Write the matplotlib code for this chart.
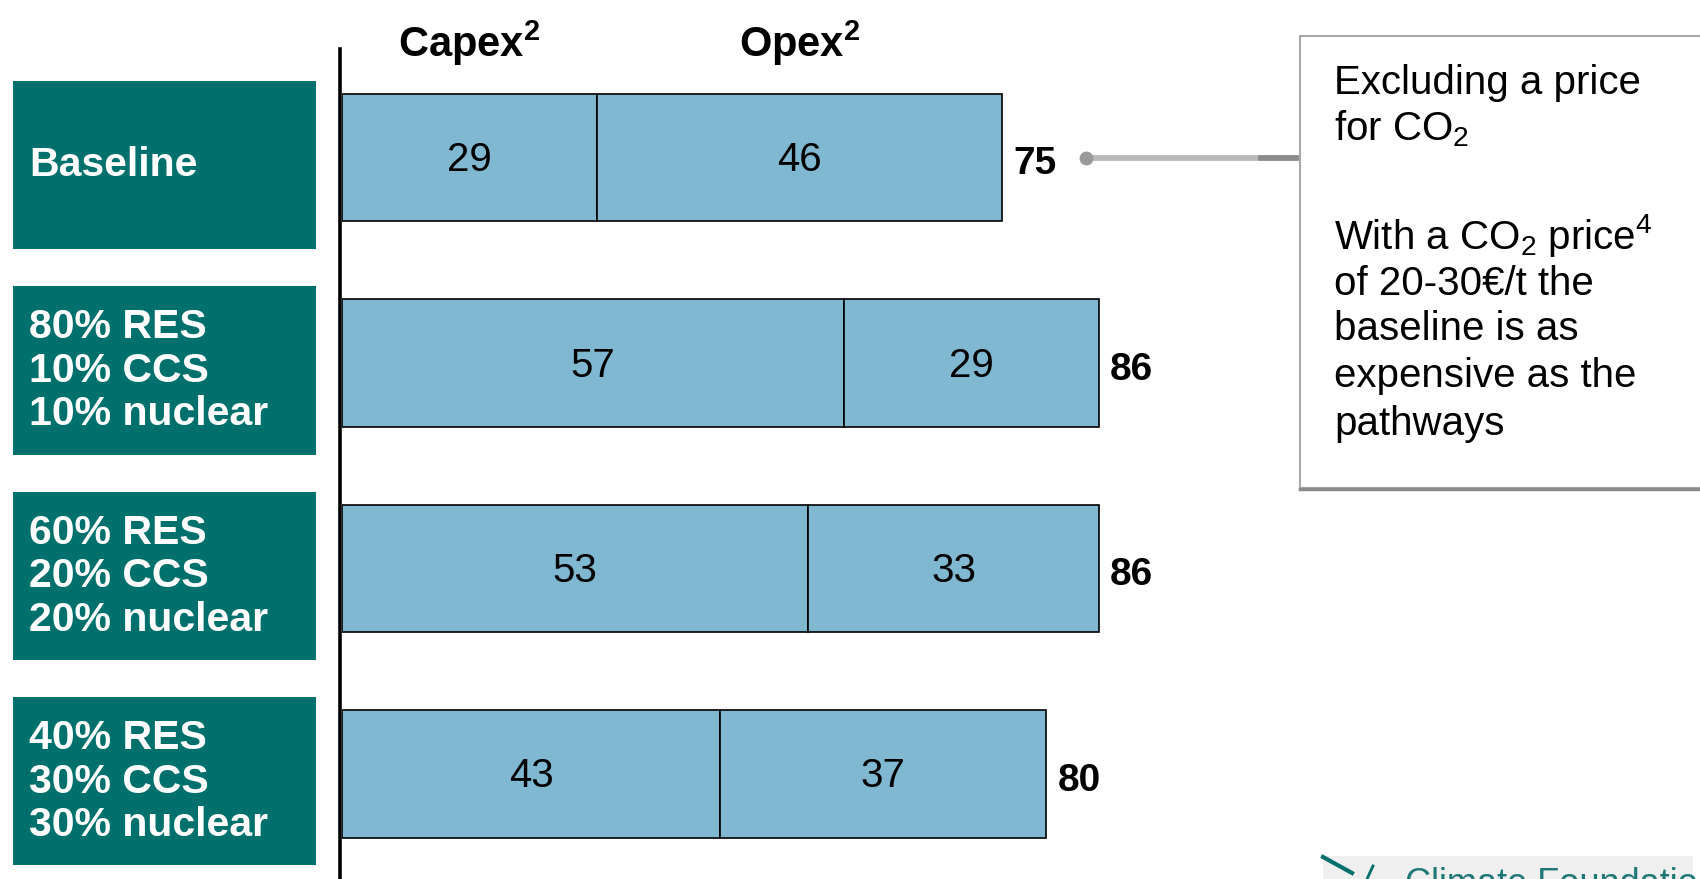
import matplotlib
matplotlib.use('Agg')
import matplotlib.pyplot as plt
import numpy as np
from matplotlib.patches import Rectangle
from matplotlib.lines import Line2D
from matplotlib.transforms import blended_transform_factory

plt.rcParams['font.family'] = ['Liberation Sans', 'DejaVu Sans']
plt.rcParams['mathtext.fontset'] = 'custom'
plt.rcParams['mathtext.rm'] = 'Liberation Sans'
plt.rcParams['mathtext.it'] = 'Liberation Sans:italic'
plt.rcParams['mathtext.bf'] = 'Liberation Sans:bold'

# cost per scenario, split into capital and operating expenditure
scenarios = ['Baseline',
             '80% RES\n10% CCS\n10% nuclear',
             '60% RES\n20% CCS\n20% nuclear',
             '40% RES\n30% CCS\n30% nuclear']
capex = [29, 57, 53, 43]
opex = [46, 29, 33, 37]
totals = [75, 86, 86, 80]
segment_names = [r'Capex$^\mathbf{2}$', r'Opex$^\mathbf{2}$']
note_lines = ['Excluding a price',
              r'for CO$_2$',
              '',
              r'With a CO$_2$ price$^4$',
              'of 20-30€/t the',
              'baseline is as',
              'expensive as the',
              'pathways']

BAR = '#80b7d1'
TEAL = '#00706c'
W, H = 1700, 879

fig = plt.figure(figsize=(W / 100, H / 100 + 0.004), dpi=100)
fig.patch.set_facecolor('white')

def fx(x):
    return x / W

def fy(y):
    return 1 - y / H

# main bar axes, the left spine doubles as the zero line
ax = fig.add_axes([fx(342), 0, 880 / W, 1 - 49 / H])
rows = np.arange(len(scenarios))
ax.barh(rows, capex, height=0.62, color=BAR, edgecolor='black', linewidth=1.2, zorder=2)
ax.barh(rows, opex, left=capex, height=0.62, color=BAR, edgecolor='black', linewidth=1.2, zorder=2)
ax.set_xlim(0, 100)
ax.set_ylim(3.511, -0.531)
ax.set_xticks([])
ax.set_yticks([])
for side in ['top', 'right', 'bottom']:
    ax.spines[side].set_visible(False)
ax.spines['left'].set_linewidth(2.6)
ax.spines['left'].set_position(('data', -0.2))
ax.patch.set_alpha(0)

for i in rows:
    ax.text(capex[i] / 2, i + 0.01, str(capex[i]), ha='center', va='center', fontsize=29, zorder=3)
    ax.text(capex[i] + opex[i] / 2, i + 0.01, str(opex[i]), ha='center', va='center', fontsize=29, zorder=3)
    ax.text(totals[i] + 1.3, i + 0.03, str(totals[i]), ha='left', va='center',
            fontsize=28, fontweight='bold', clip_on=False)

# column headers over the baseline segments
hdr_tr = blended_transform_factory(ax.transData, fig.transFigure)
ax.text(capex[0] / 2, fy(43), segment_names[0], transform=hdr_tr, ha='center', va='center',
        fontsize=30, fontweight='bold', clip_on=False)
ax.text(capex[0] + opex[0] / 2, fy(43), segment_names[1], transform=hdr_tr, ha='center', va='center',
        fontsize=30, fontweight='bold', clip_on=False)

# teal scenario boxes on the left
box_tr = blended_transform_factory(fig.transFigure, ax.transData)
for i, name in enumerate(scenarios):
    yc = i + 0.035
    ax.add_patch(Rectangle((fx(13), yc - 0.41), (316 - 13) / W, 0.82, transform=box_tr,
                           facecolor=TEAL, edgecolor='none', clip_on=False))
    ax.text(fx(29), yc, name, transform=box_tr, ha='left', va='center', color='white',
            fontsize=29.5, fontweight='bold', linespacing=1.18, clip_on=False)

# connector from the baseline total to the note box
x_box = ax.transData.inverted().transform(fig.transFigure.transform((fx(1300), 0)))[0]
x_mid = ax.transData.inverted().transform(fig.transFigure.transform((fx(1258), 0)))[0]
x_dot = totals[0] + 9.5
ax.plot([x_dot, x_mid], [0, 0], color='#b8b8b8', lw=4.2, clip_on=False, solid_capstyle='butt')
ax.plot([x_mid, x_box], [0, 0], color='#8c8c8c', lw=4.2, clip_on=False, solid_capstyle='butt')
ax.plot([x_dot], [0], 'o', color='#9a9a9a', ms=9, clip_on=False)

# note box
fig.add_artist(Rectangle((fx(1300), fy(488)), 420 / W, (488 - 36) / H, transform=fig.transFigure,
                         facecolor='white', edgecolor='#a8a8a8', linewidth=1.5))
fig.add_artist(Line2D([fx(1300), 1.0], [fy(489), fy(489)], color='#8a8a8a', lw=2.5))
note_y = [83, 129, 0, 235, 284, 329, 376, 424]
for line, yy in zip(note_lines, note_y):
    if line:
        fig.text(fx(1334), fy(yy), line, ha='left', va='center', fontsize=29)

# logo strip at the bottom right
fig.add_artist(Rectangle((fx(1323), 0), (1693 - 1323) / W, 23 / H, transform=fig.transFigure,
                         facecolor='#efefef', edgecolor='none'))
fig.add_artist(Line2D([fx(1323), fx(1352)], [fy(857), fy(873)], color=TEAL, lw=3))
fig.add_artist(Line2D([fx(1373), fx(1367)], [fy(866), fy(879)], color=TEAL, lw=2))
fig.text(fx(1405), fy(867), 'Climate Foundation', ha='left', va='top', fontsize=26, color='#1f7876')

fig.savefig('out.png', dpi=100, facecolor='white')
